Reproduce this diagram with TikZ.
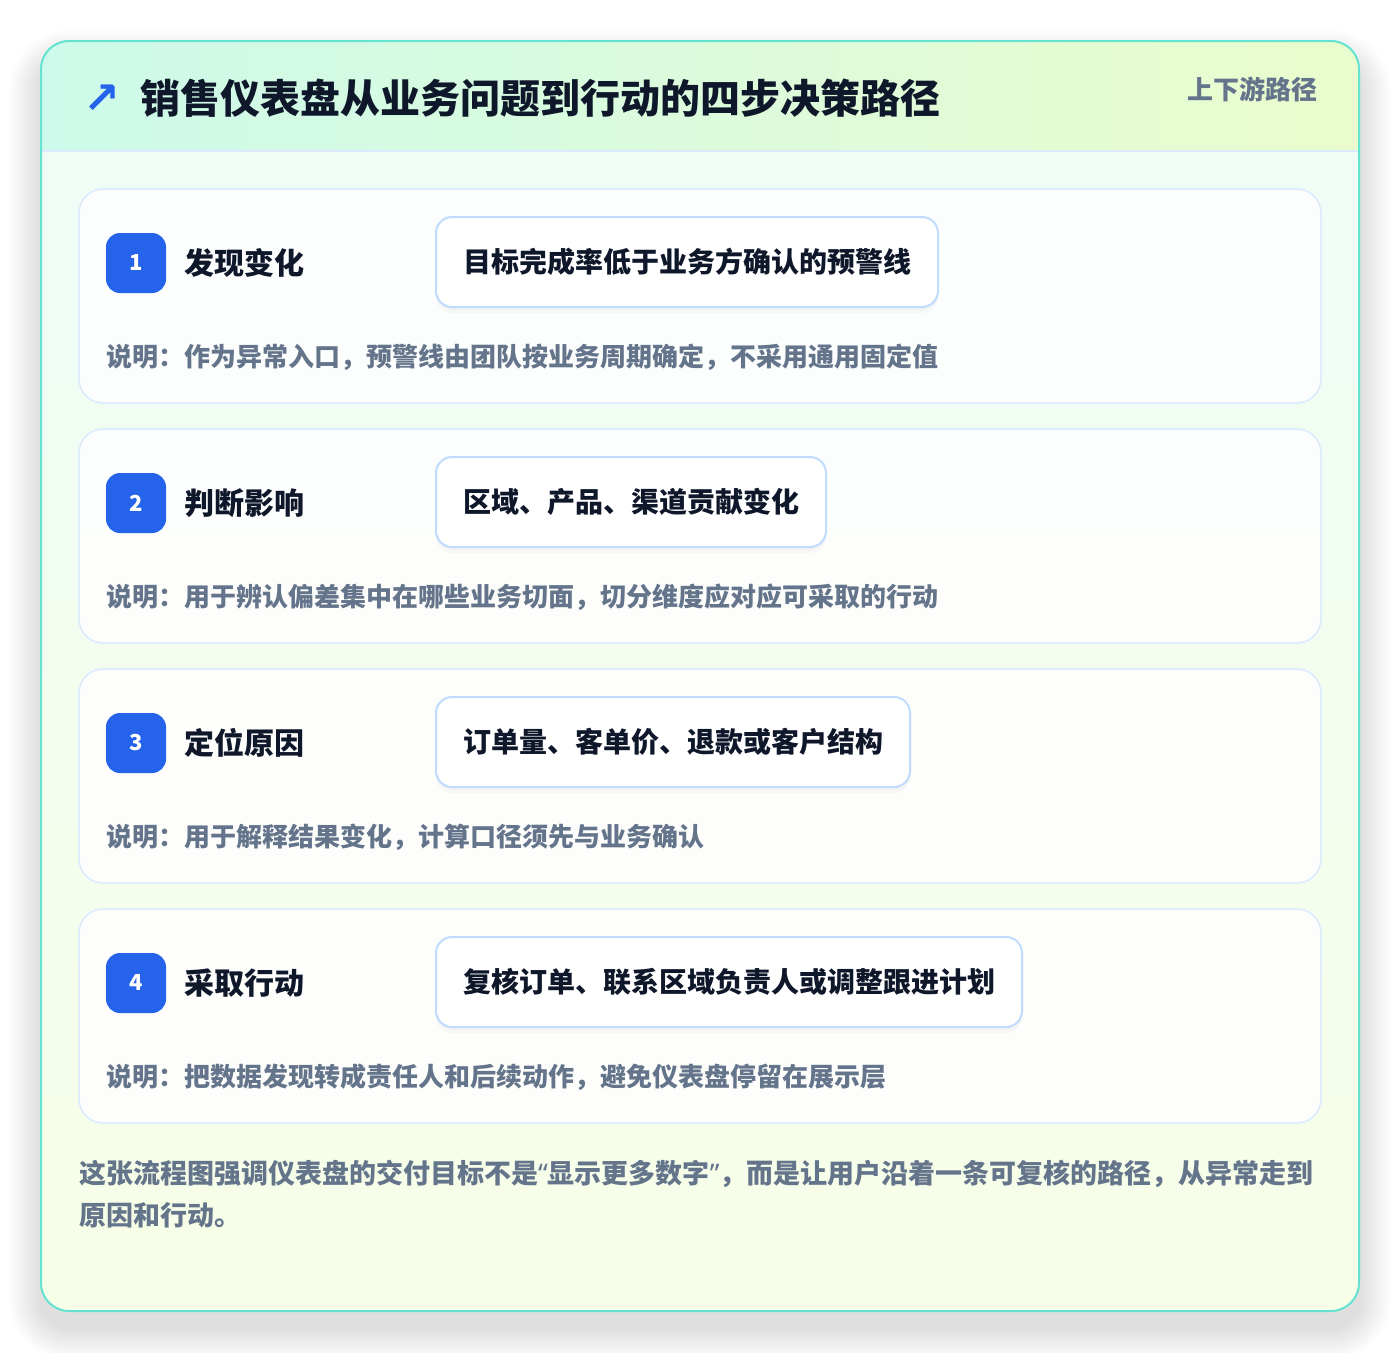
\documentclass[tikz,border=0pt]{standalone}
\usepackage{fontspec}
\setmainfont{Noto Sans CJK SC}
\newfontfamily\symfont{DejaVu Sans}
\newfontfamily\quotefont{Noto Sans}
\definecolor{outerTop}{RGB}{238,253,248}
\definecolor{outerBot}{RGB}{247,254,231}
\definecolor{headL}{RGB}{205,250,234}
\definecolor{headR}{RGB}{234,252,205}
\definecolor{teal}{RGB}{100,228,208}
\definecolor{lineblue}{RGB}{219,234,254}
\definecolor{boxblue}{RGB}{191,219,254}
\definecolor{ink}{RGB}{15,23,42}
\definecolor{slate}{RGB}{100,116,139}
\definecolor{badge}{RGB}{37,99,235}
\tikzset{
  card/.style={draw=lineblue, line width=1.5pt, fill=white, fill opacity=0.85, rounded corners=24pt},
  badgebox/.style={fill=badge, rounded corners=14pt, minimum width=60pt, minimum height=60pt, inner sep=0pt,
    text=white, font=\bfseries\fontsize{22}{26}\selectfont},
  steplabel/.style={anchor=west, inner sep=0pt, text=ink, font=\bfseries\fontsize{30}{36}\selectfont},
  detailbox/.style={anchor=west, draw=boxblue, line width=2pt, fill=white, rounded corners=16pt,
    minimum height=90pt, inner xsep=27pt, text=ink, font=\bfseries\fontsize{28}{34}\selectfont},
  desc/.style={anchor=west, inner sep=0pt, text=slate, font=\bfseries\fontsize{26}{32}\selectfont},
}
\begin{document}
\begin{tikzpicture}[x=1pt,y=-1pt]
\useasboundingbox (0,0) rectangle (1400,1352);
\fill[white] (0,0) rectangle (1400,1352);
% outer shadow
\foreach \i in {1,...,16}{
  \pgfmathsetmacro\rr{28+2*\i}
  \pgfmathsetmacro\dd{2*\i}
  \fill[black, opacity=0.007, rounded corners=\rr pt] (41-\dd, 62-\dd) rectangle (1359+\dd, 1328+\dd);
}
% outer card
\shade[top color=outerTop, bottom color=outerBot, rounded corners=28pt] (41,41) rectangle (1359,1311);
\begin{scope}
  \clip[rounded corners=28pt] (41,41) rectangle (1359,1311);
  \shade[left color=headL, right color=headR] (41,41) rectangle (1359,151);
  \draw[lineblue, line width=1.5pt] (41,151) -- (1359,151);
\end{scope}
\draw[teal, line width=2pt, rounded corners=28pt] (41,41) rectangle (1359,1311);
% header
\node[anchor=center, text=badge, font=\symfont\bfseries\fontsize{44}{48}\selectfont, inner sep=0pt] (icon) at (102,99) {↗};
\node[anchor=west, inner sep=0pt, text=ink, font=\bfseries\fontsize{40}{46}\selectfont] (title) at (140,98) {销售仪表盘从业务问题到行动的四步决策路径};
\node[anchor=east, inner sep=0pt, text=slate, font=\bfseries\fontsize{26}{30}\selectfont] (tag) at (1318,89) {上下游路径};
% steps
\foreach \k/\lab/\bx/\dsc in {
  1/发现变化/目标完成率低于业务方确认的预警线/说明：作为异常入口，预警线由团队按业务周期确定，不采用通用固定值,
  2/判断影响/区域、产品、渠道贡献变化/说明：用于辨认偏差集中在哪些业务切面，切分维度应对应可采取的行动,
  3/定位原因/订单量、客单价、退款或客户结构/说明：用于解释结果变化，计算口径须先与业务确认,
  4/采取行动/复核订单、联系区域负责人或调整跟进计划/说明：把数据发现转成责任人和后续动作，避免仪表盘停留在展示层}{
  \pgfmathsetmacro\ty{189+240*(\k-1)}
  \draw[card] (79,\ty) rectangle (1321,\ty+214);
  \node[badgebox] (b\k) at (136,\ty+74) {\k};
  \node[steplabel] (l\k) at (184,\ty+74) {\lab};
  % soft shadow of detail box
  \node[detailbox, draw=none, fill=black, fill opacity=0.025, yshift=-6pt] at (435,\ty+73) {\phantom{\bx}};
  \node[detailbox, draw=none, fill=black, fill opacity=0.02, yshift=-3pt] at (435,\ty+73) {\phantom{\bx}};
  \node[detailbox] (d\k) at (435,\ty+73) {\bx};
  \node[desc] (s\k) at (106,\ty+168) {\dsc};
}
% footer
\node[anchor=north west, inner sep=0pt, align=left, text=slate, font=\bfseries\fontsize{27}{42}\selectfont] (foot) at (79,1160)
  {这张流程图强调仪表盘的交付目标不是{\quotefont “}显示更多数字{\quotefont ”}，而是让用户沿着一条可复核的路径，从异常走到\\原因和行动。};
\end{tikzpicture}
\end{document}
